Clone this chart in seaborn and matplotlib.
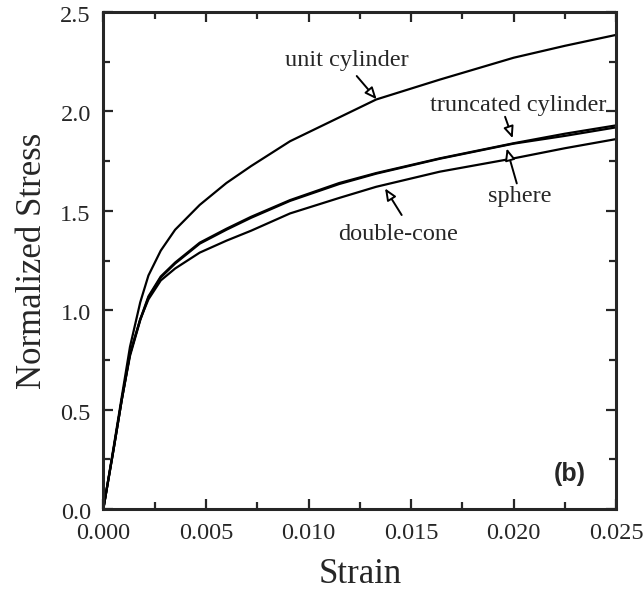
import pandas as pd
import matplotlib
matplotlib.use("Agg")
import matplotlib.pyplot as plt
import matplotlib.transforms as mtransforms
import seaborn as sns

# strain grid shared by all curves
strain = [0, 0.0005, 0.0009, 0.0013, 0.0018, 0.0022, 0.0028, 0.0035, 0.0047,
          0.006, 0.0072, 0.0091, 0.0115, 0.0133, 0.0164, 0.020, 0.0225, 0.025]

unit_cylinder = [0, 0.31, 0.565, 0.816, 1.04, 1.175, 1.30, 1.405, 1.53,
                 1.64, 1.725, 1.85, 1.97, 2.06, 2.16, 2.27, 2.33, 2.385]
truncated_cylinder = [0, 0.30, 0.55, 0.78, 0.955, 1.07, 1.17, 1.24, 1.34,
                      1.41, 1.47, 1.554, 1.64, 1.69, 1.764, 1.84, 1.888, 1.93]
sphere = [0, 0.30, 0.55, 0.77, 0.95, 1.065, 1.165, 1.235, 1.335,
          1.405, 1.465, 1.55, 1.635, 1.687, 1.762, 1.838, 1.877, 1.92]
double_cone = [0, 0.30, 0.55, 0.78, 0.955, 1.055, 1.15, 1.21, 1.29,
               1.35, 1.40, 1.487, 1.565, 1.621, 1.697, 1.764, 1.815, 1.861]

names = ["unit cylinder", "truncated cylinder", "sphere", "double-cone"]
series = [unit_cylinder, truncated_cylinder, sphere, double_cone]

df = pd.concat([pd.DataFrame({"Strain": strain, "Stress": s, "shape": n})
                for n, s in zip(names, series)], ignore_index=True)

sns.set_style("ticks")
plt.rcParams['font.family'] = ['Liberation Serif', 'DejaVu Serif']

fig = plt.figure(figsize=(6.44, 5.99), dpi=100)
ax = fig.add_axes([0.1604, 0.150, 0.7966, 0.830])

sns.lineplot(data=df, x="Strain", y="Stress", units="shape", estimator=None,
             color="black", linewidth=1.6, ax=ax, sort=False)

ax.set_xlim(0, 0.025)
ax.set_ylim(0, 2.5)
ax.set_xticks([0, 0.005, 0.010, 0.015, 0.020, 0.025])
ax.set_xticklabels(["0.000", "0.005", "0.010", "0.015", "0.020", "0.025"])
ax.set_yticks([0, 0.5, 1.0, 1.5, 2.0, 2.5])
ax.set_yticklabels(["0.0", "0.5", "1.0", "1.5", "2.0", "2.5"])
ax.set_xticks([0.0025, 0.0075, 0.0125, 0.0175, 0.0225], minor=True)
ax.set_yticks([0.25, 0.75, 1.25, 1.75, 2.25], minor=True)
ax.tick_params(which="both", direction="in", top=True, right=True,
               labelsize=17.5, width=1.6)
ax.tick_params(which="major", length=7)
ax.tick_params(which="minor", length=5)
ax.tick_params(axis="x", pad=10)
ax.tick_params(axis="y", pad=9)
for sp in ax.spines.values():
    sp.set_linewidth(2.2)
    sp.set_visible(True)

# y tick labels sit a little low in the original
shift = mtransforms.ScaledTranslation(0, -1.5 / 72, fig.dpi_scale_trans)
for lab in ax.get_yticklabels():
    lab.set_transform(lab.get_transform() + shift)

ax.set_xlabel("Strain", fontsize=25, labelpad=10)
ax.set_ylabel("Normalized Stress", fontsize=25, labelpad=8)

arrow = dict(arrowstyle="-|>,head_length=0.7,head_width=0.3", fc="white",
             ec="black", lw=1.4, shrinkA=0, shrinkB=0)
fs = 17.5
ax.text(0.01186, 2.258, "unit cylinder", ha="center", va="center", fontsize=fs)
ax.annotate("", xy=(0.01332, 2.061), xytext=(0.01235, 2.178), arrowprops=arrow)
ax.text(0.0202, 2.032, "truncated cylinder", ha="center", va="center", fontsize=fs)
ax.annotate("", xy=(0.01995, 1.865), xytext=(0.01958, 1.973), arrowprops=arrow)
ax.text(0.0203, 1.571, "sphere", ha="center", va="center", fontsize=fs)
ax.annotate("", xy=(0.01966, 1.814), xytext=(0.02015, 1.638), arrowprops=arrow)
ax.text(0.01435, 1.380, "double-cone", ha="center", va="center", fontsize=fs)
ax.annotate("", xy=(0.01373, 1.613), xytext=(0.01454, 1.479), arrowprops=arrow)

ax.text(0.02274, 0.175, "(b)", ha="center", va="center", fontsize=18,
        fontweight="bold", family=["Liberation Sans", "DejaVu Sans"])

fig.savefig("out.png", dpi=100)
